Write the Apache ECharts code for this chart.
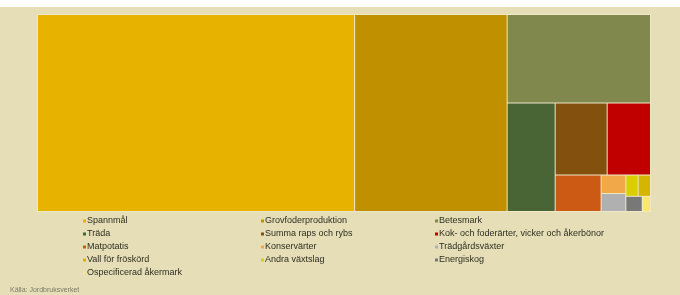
<!DOCTYPE html>
<html>
<head>
<meta charset="utf-8">
<script src="https://cdn.jsdelivr.net/npm/echarts@6/dist/echarts.min.js"></script>
<style>
  html, body { margin: 0; padding: 0; background: #ffffff; }
  #chart { position: absolute; left: 0; top: 7px; width: 680px; height: 288px; background: #e5deb6; }
</style>
</head>
<body>
<div id="chart"></div>
<script>
// areal per gröda (relativt Spannmål = 1000)
const names = [
  'Spannmål', 'Grovfoderproduktion', 'Betesmark', 'Träda', 'Summa raps och rybs',
  'Kok- och foderärter, vicker och åkerbönor', 'Matpotatis', 'Konservärter',
  'Trädgårdsväxter', 'Vall för fröskörd', 'Andra växtslag', 'Energiskog', 'Ospecificerad åkermark'
]
const values = [1000, 481, 203, 83.4, 60, 50, 26.8, 7.3, 7.1, 4.2, 4.2, 4.0, 2.0]
const colors = [
  '#e8b200', '#c09000', '#80884e', '#4a6535', '#84500e',
  '#c00000', '#cc5a14', '#f0a848',
  '#b0b0b0', '#d4b600', '#d8d000', '#787878', '#f8e870'
]
// legend order as in the picture (row by row, three columns)
const legendOrder = [
  'Spannmål', 'Grovfoderproduktion', 'Betesmark',
  'Träda', 'Summa raps och rybs', 'Kok- och foderärter, vicker och åkerbönor',
  'Matpotatis', 'Konservärter', 'Trädgårdsväxter',
  'Vall för fröskörd', 'Andra växtslag', 'Energiskog',
  'Ospecificerad åkermark'
]
const source = 'Källa: Jordbruksverket'

const myChart = echarts.init(document.getElementById('chart'))

const legendItems = []
legendOrder.forEach((n, i) => {
  const col = i % 3
  const row = Math.floor(i / 3)
  const x = [83, 261, 435][col]
  const y = 214 + row * 13
  legendItems.push({
    type: 'rect', shape: { x: x, y: y - 1.5, width: 3, height: 3 },
    style: { fill: colors[names.indexOf(n)] }, silent: true
  })
  legendItems.push({
    type: 'text', x: x + 4, y: y,
    style: { text: n, fill: '#2e2e22', font: '9px "Liberation Sans", sans-serif', verticalAlign: 'middle' },
    silent: true
  })
})
legendItems.push({
  type: 'text', x: 10, y: 283,
  style: { text: source, fill: '#7a7a68', font: '7px "Liberation Sans", sans-serif', verticalAlign: 'middle' },
  silent: true
})

const option = {
  animation: false,
  tooltip: { show: false },
  series: [{
    type: 'treemap',
    left: 37, top: 7, width: 614, height: 198,
    roam: false,
    nodeClick: false,
    squareRatio: 0.87,
    breadcrumb: { show: false },
    label: { show: false },
    upperLabel: { show: false },
    levels: [{
      itemStyle: { borderColor: '#efe8c6', borderWidth: 1, gapWidth: 1 }
    }],
    data: names.map((n, i) => ({
      name: n, value: values[i],
      itemStyle: { color: colors[i], borderColor: '#efe8c6' }
    }))
  }],
  graphic: legendItems
}

myChart.setOption(option)
</script>
</body>
</html>
